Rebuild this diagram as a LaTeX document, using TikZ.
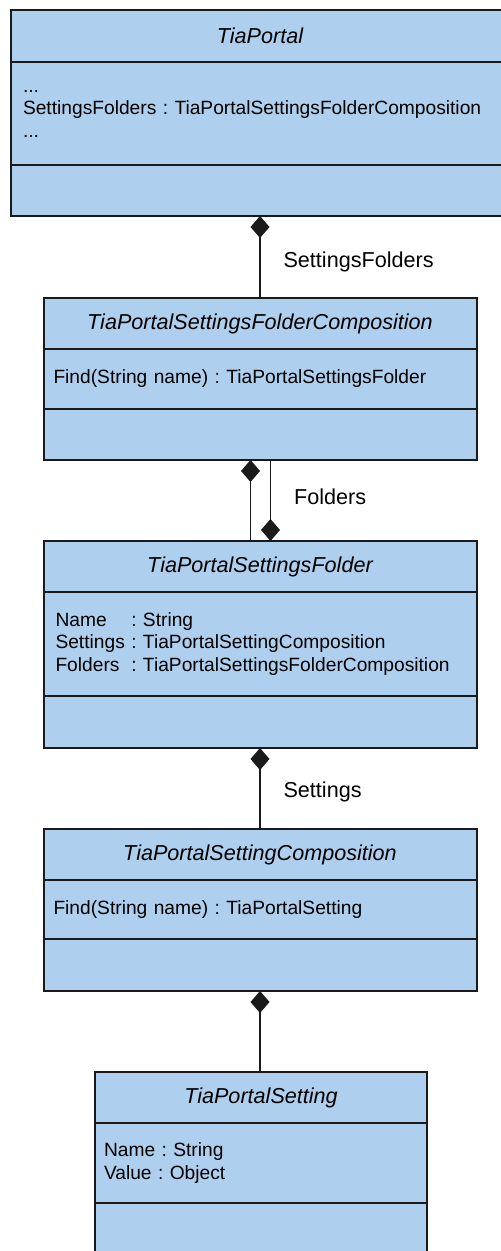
\documentclass[tikz,border=0pt]{standalone}
\usepackage{fontspec}
\setmainfont{Liberation Sans}
\usetikzlibrary{arrows.meta,positioning}
\definecolor{UmlFill}{HTML}{AECFED}
\definecolor{UmlLine}{HTML}{1A1A1A}
\frenchspacing

\begin{document}
\begin{tikzpicture}[node distance=0pt]
    \tikzset{part/.style={draw=UmlLine,fill=UmlFill,line width=1pt,outer sep=0pt,inner ysep=0pt,minimum width=#1},
      head/.style={part=#1,minimum height=25.5pt,font=\fontsize{10.8}{13}\selectfont\itshape},
      attrs/.style={part=#1,align=left,font=\fontsize{9.6}{11.25}\selectfont},
      ops/.style={part=#1,minimum height=26pt},
      comp/.style={draw=UmlLine,line width=0.9pt,-{Diamond[length=11pt,width=9.5pt]}},
      lbl/.style={font=\fontsize{10.8}{13}\selectfont,anchor=west,xshift=8pt}}
    \useasboundingbox (0,0) rectangle (250.5pt,-625.5pt);
    % TiaPortal
    \node[head=249pt,minimum height=26pt,anchor=north] (c1head) at (130pt,-5pt) {TiaPortal};
    \node[attrs=249pt,minimum height=51.5pt,text width=237pt,inner xsep=6pt,below=of c1head] (c1attr)
      {...\\SettingsFolders : TiaPortalSettingsFolderComposition\\...};
    \node[ops=249pt,minimum height=25.5pt,below=of c1attr] (c1ops) {};
    % TiaPortalSettingsFolderComposition
    \node[head=216.5pt,below=41pt of c1ops] (c2head) {TiaPortalSettingsFolderComposition};
    \node[attrs=216.5pt,minimum height=30pt,text width=206.5pt,inner xsep=5pt,below=of c2head] (c2attr)
      {Find(String name) : TiaPortalSettingsFolder};
    \node[ops=216.5pt,minimum height=25.5pt,below=of c2attr] (c2ops) {};
    % TiaPortalSettingsFolder
    \node[head=216.5pt,below=40.5pt of c2ops] (c3head) {TiaPortalSettingsFolder};
    \node[attrs=216.5pt,minimum height=52pt,text width=204.5pt,inner xsep=6pt,below=of c3head] (c3attr)
      {\begin{tabular}{@{}l@{ : }l@{}}
        Name & String\\
        Settings & TiaPortalSettingComposition\\
        Folders & TiaPortalSettingsFolderComposition
      \end{tabular}};
    \node[ops=216.5pt,below=of c3attr] (c3ops) {};
    % TiaPortalSettingComposition
    \node[head=216.5pt,below=40.5pt of c3ops] (c4head) {TiaPortalSettingComposition};
    \node[attrs=216.5pt,minimum height=29.5pt,text width=206.5pt,inner xsep=5pt,below=of c4head] (c4attr)
      {Find(String name) : TiaPortalSetting};
    \node[ops=216.5pt,below=of c4attr] (c4ops) {};
    % TiaPortalSetting
    \node[head=166pt,below=40.5pt of c4ops,xshift=0.5pt] (c5head) {TiaPortalSetting};
    \node[attrs=166pt,minimum height=40pt,text width=157pt,inner xsep=4.5pt,below=of c5head] (c5attr)
      {Name : String\\Value : Object};
    \node[ops=166pt,below=of c5attr] (c5ops) {};

    % compositions
    \draw[comp] (c2head.north) -- (c1ops.south -| c2head.north)
      node[lbl,midway,yshift=-2.5pt] {SettingsFolders};
    \draw[comp] ([xshift=-4.75pt]c3head.north) -- ([xshift=-4.75pt]c2ops.south);
    \draw[comp] ([xshift=5.25pt]c2ops.south) -- ([xshift=5.25pt]c3head.north)
      node[lbl,midway,yshift=2pt] {Folders};
    \draw[comp] (c4head.north) -- (c3ops.south)
      node[lbl,midway,yshift=-1.5pt] {Settings};
    \draw[comp] (c5head.north -| c4ops.south) -- (c4ops.south);
  \end{tikzpicture}
\end{document}
